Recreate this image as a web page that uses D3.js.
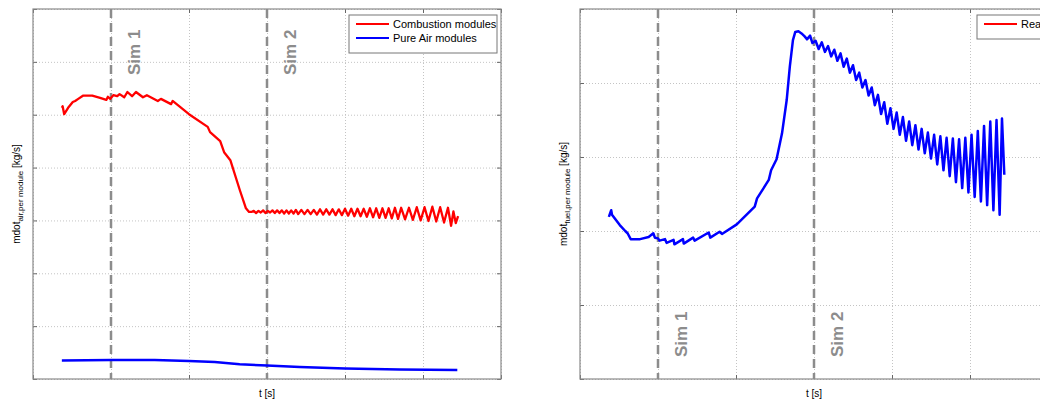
<!DOCTYPE html>
<html>
<head>
<meta charset="utf-8">
<script src="https://cdn.jsdelivr.net/npm/d3@7"></script>
<style>
    body { margin: 0; background: #fff; }
    text { font-family: "Liberation Sans", Arial, sans-serif; }
</style>
</head>
<body>
<div id="chart"></div>
<script>
// tick positions (no labels are shown on the original)
const tTicks = [0, 100, 200, 300, 400, 500, 600];
const airTicks = [0, 0.1, 0.2, 0.3, 0.4, 0.5, 0.6, 0.7];
const fuelTicks = [0, 0.01, 0.02, 0.03, 0.04, 0.05];
const simTimes = [100, 300];
const simLabels = ["Sim 1", "Sim 2"];

// [t, mdot]
const combustion = [
    [37, 0.513], [38, 0.516], [40, 0.501], [45, 0.513], [51, 0.524], [54, 0.526], [58, 0.530],
    [64, 0.536], [76, 0.536], [86, 0.532], [94, 0.528], [96, 0.534], [99, 0.530], [103, 0.537],
    [108, 0.535], [111, 0.539], [117, 0.533], [121, 0.543], [127, 0.535], [132, 0.543],
    [141, 0.533], [146, 0.537], [160, 0.526], [164, 0.530], [177, 0.520], [179, 0.526],
    [200, 0.501], [224, 0.477], [227, 0.467], [240, 0.450], [245, 0.429], [253, 0.414],
    [265, 0.358], [273, 0.323], [277, 0.316],
    [280, 0.316], [283, 0.318], [286, 0.314], [289, 0.318], [292, 0.315], [295, 0.319],
    [298, 0.314], [301, 0.318], [304, 0.315], [307, 0.319], [310, 0.314], [313, 0.319],
    [316, 0.314], [319, 0.319], [322, 0.313], [325, 0.319], [328, 0.313], [331, 0.319],
    [334, 0.313], [337, 0.320], [340, 0.312], [344, 0.320], [348, 0.312], [352, 0.320],
    [356, 0.312], [360, 0.320], [364, 0.311], [368, 0.321], [372, 0.311], [376, 0.321],
    [380, 0.311], [384, 0.321], [388, 0.310], [392, 0.321], [396, 0.310], [400, 0.322],
    [404, 0.309], [408, 0.322], [412, 0.308], [416, 0.322], [420, 0.308], [424, 0.322],
    [428, 0.307], [432, 0.323], [436, 0.306], [440, 0.323], [444, 0.305], [448, 0.323],
    [452, 0.305], [456, 0.323], [460, 0.304], [464, 0.324], [468, 0.303], [472, 0.324],
    [477, 0.302], [482, 0.324], [487, 0.301], [492, 0.325], [497, 0.300], [502, 0.325],
    [507, 0.299], [512, 0.326], [517, 0.298], [522, 0.325], [527, 0.296], [532, 0.324],
    [536, 0.290], [539, 0.317], [542, 0.295], [545, 0.308]
];

const pureAir = [
    [37, 0.035], [100, 0.036], [156, 0.036], [200, 0.034], [233, 0.032], [265, 0.028],
    [300, 0.0255], [342, 0.0227], [400, 0.020], [470, 0.018], [544, 0.017]
];

const realFuel = [
    [37, 0.0219], [40, 0.0228], [41, 0.0222], [51, 0.0208], [58, 0.0200], [61, 0.0197],
    [65, 0.0189], [77, 0.0189], [88, 0.0192], [94, 0.0197], [96, 0.0191], [100, 0.0190],
    [102, 0.0187], [109, 0.0189], [111, 0.0184], [120, 0.0188], [121, 0.0182], [132, 0.0189],
    [133, 0.0183], [145, 0.0191], [147, 0.0187], [165, 0.0198], [167, 0.0191], [179, 0.0199],
    [182, 0.0196], [201, 0.0209], [224, 0.0233], [227, 0.0244], [242, 0.0269], [245, 0.0282],
    [252, 0.0297], [259, 0.0332], [265, 0.0377], [269, 0.0422], [273, 0.0458], [276, 0.0469],
    [280, 0.0470], [284, 0.0467], [288, 0.0463], [291, 0.0459], [295, 0.0464], [298, 0.0454],
    [302, 0.0457], [306, 0.0446], [310, 0.0455], [314, 0.0442], [318, 0.0450], [322, 0.0436],
    [326, 0.0445], [330, 0.0430], [334, 0.0440], [338, 0.0422], [342, 0.0433], [346, 0.0414],
    [350, 0.0424], [354, 0.0404], [358, 0.0414], [362, 0.0394], [366, 0.0404], [370, 0.0383],
    [374, 0.0394], [378, 0.0370], [382, 0.0384], [386, 0.0358], [390, 0.0374], [394, 0.0345],
    [398, 0.0366], [402, 0.0338], [406, 0.0360], [410, 0.0330], [414, 0.0354], [418, 0.0322],
    [422, 0.0348], [426, 0.0316], [430, 0.0343], [434, 0.0310], [438, 0.0338], [442, 0.0305],
    [446, 0.0333], [450, 0.0298], [454, 0.0330], [458, 0.0290], [462, 0.0328], [466, 0.0282],
    [470, 0.0326], [474, 0.0274], [478, 0.0325], [482, 0.0266], [486, 0.0324], [490, 0.0258],
    [494, 0.0326], [498, 0.0252], [502, 0.0330], [506, 0.0246], [510, 0.0335], [514, 0.0240],
    [518, 0.0342], [522, 0.0235], [526, 0.0348], [530, 0.0228], [534, 0.0350], [538, 0.0222],
    [541, 0.0352], [544, 0.0276]
];

const svg = d3.select("#chart")
    .append("svg")
    .attr("width", 1040)
    .attr("height", 401);

function drawPanel(opts) {
    const w = 468, h = 370;
    const g = svg.append("g")
        .attr("transform", `translate(${opts.left},9)`);

    const x = d3.scaleLinear().domain([0, 600]).range([0, w]);
    const y = d3.scaleLinear().domain(opts.yDomain).range([h, 0]);

    // dotted grid
    const gridStyle = sel => {
        sel.select(".domain").remove();
        sel.selectAll("line").attr("stroke", "#c4c4c4").attr("stroke-dasharray", "1,2");
    };
    g.append("g")
        .call(d3.axisBottom(x).tickValues(tTicks).tickSize(h).tickFormat(""))
        .call(gridStyle);
    g.append("g")
        .call(d3.axisLeft(y).tickValues(opts.yTicks).tickSize(-w).tickFormat(""))
        .call(gridStyle);

    // inward tick marks on all sides
    const tickStyle = sel => {
        sel.select(".domain").remove();
        sel.selectAll("line").attr("stroke", "#666");
    };
    g.append("g").attr("transform", `translate(0,${h})`)
        .call(d3.axisBottom(x).tickValues(tTicks).tickSize(-4).tickFormat("")).call(tickStyle);
    g.append("g")
        .call(d3.axisTop(x).tickValues(tTicks).tickSize(-4).tickFormat("")).call(tickStyle);
    g.append("g")
        .call(d3.axisLeft(y).tickValues(opts.yTicks).tickSize(-4).tickFormat("")).call(tickStyle);
    g.append("g").attr("transform", `translate(${w},0)`)
        .call(d3.axisRight(y).tickValues(opts.yTicks).tickSize(-4).tickFormat("")).call(tickStyle);

    // box
    g.append("rect")
        .attr("width", w).attr("height", h)
        .attr("fill", "none")
        .attr("stroke", "#8a8a8a")
        .attr("stroke-width", 1.2);

    // Sim markers
    simTimes.forEach((t, i) => {
        g.append("line")
            .attr("x1", x(t)).attr("x2", x(t))
            .attr("y1", 0).attr("y2", h)
            .attr("stroke", "#8c8c8c")
            .attr("stroke-width", 2.5)
            .attr("stroke-dasharray", "9,5");
        g.append("text")
            .attr("transform", `translate(${x(t) + 29},${opts.simY}) rotate(-90)`)
            .attr("font-size", "17px")
            .attr("font-weight", "bold")
            .attr("fill", "#8c8c8c")
            .text(simLabels[i]);
    });

    // data lines
    const line = d3.line().x(d => x(d[0])).y(d => y(d[1]));
    opts.series.forEach(s => {
        g.append("path")
            .datum(s.data)
            .attr("d", line)
            .attr("fill", "none")
            .attr("stroke", s.color)
            .attr("stroke-width", s.width)
            .attr("stroke-linejoin", "round");
    });

    // axis labels
    g.append("text")
        .attr("x", w / 2).attr("y", h + 18)
        .attr("text-anchor", "middle")
        .attr("font-size", "10px")
        .text("t [s]");

    const yl = g.append("text")
        .attr("transform", `translate(${opts.yLabelX},${h / 2}) rotate(-90)`)
        .attr("text-anchor", "middle")
        .attr("font-size", "10px");
    yl.append("tspan").text("mdot");
    yl.append("tspan").attr("dy", 3).attr("font-size", "8px").text(opts.yLabelSub);
    yl.append("tspan").attr("dy", -3).text(" [kg/s]");

    // legend
    const lg = g.append("g").attr("transform", `translate(${opts.legend.x},6)`);
    lg.append("rect")
        .attr("width", opts.legend.w)
        .attr("height", 10 + 14 * opts.legend.items.length)
        .attr("fill", "#fff")
        .attr("stroke", "#777");
    opts.legend.items.forEach((it, i) => {
        const cy = 9 + 14 * i;
        lg.append("line")
            .attr("x1", 7).attr("x2", 40)
            .attr("y1", cy).attr("y2", cy)
            .attr("stroke", it.color).attr("stroke-width", 2);
        lg.append("text")
            .attr("x", 44).attr("y", cy + 4)
            .attr("font-size", "11px")
            .text(it.label);
    });
}

drawPanel({
    left: 33,
    yDomain: [0, 0.7],
    yTicks: airTicks,
    simY: 66,
    yLabelX: -13,
    yLabelSub: "air,per module",
    series: [
        { data: combustion, color: "#ff0000", width: 2.3 },
        { data: pureAir, color: "#0000ff", width: 2.5 }
    ],
    legend: {
        x: 316, w: 148,
        items: [
            { label: "Combustion modules", color: "#ff0000" },
            { label: "Pure Air modules", color: "#0000ff" }
        ]
    }
});

drawPanel({
    left: 580,
    yDomain: [0, 0.05],
    yTicks: fuelTicks,
    simY: 348,
    yLabelX: -13,
    yLabelSub: "fuel,per module",
    series: [
        { data: realFuel, color: "#0000ff", width: 2.5 }
    ],
    legend: {
        x: 397, w: 120,
        items: [
            { label: "Real modules", color: "#ff0000" }
        ]
    }
});
</script>
</body>
</html>
